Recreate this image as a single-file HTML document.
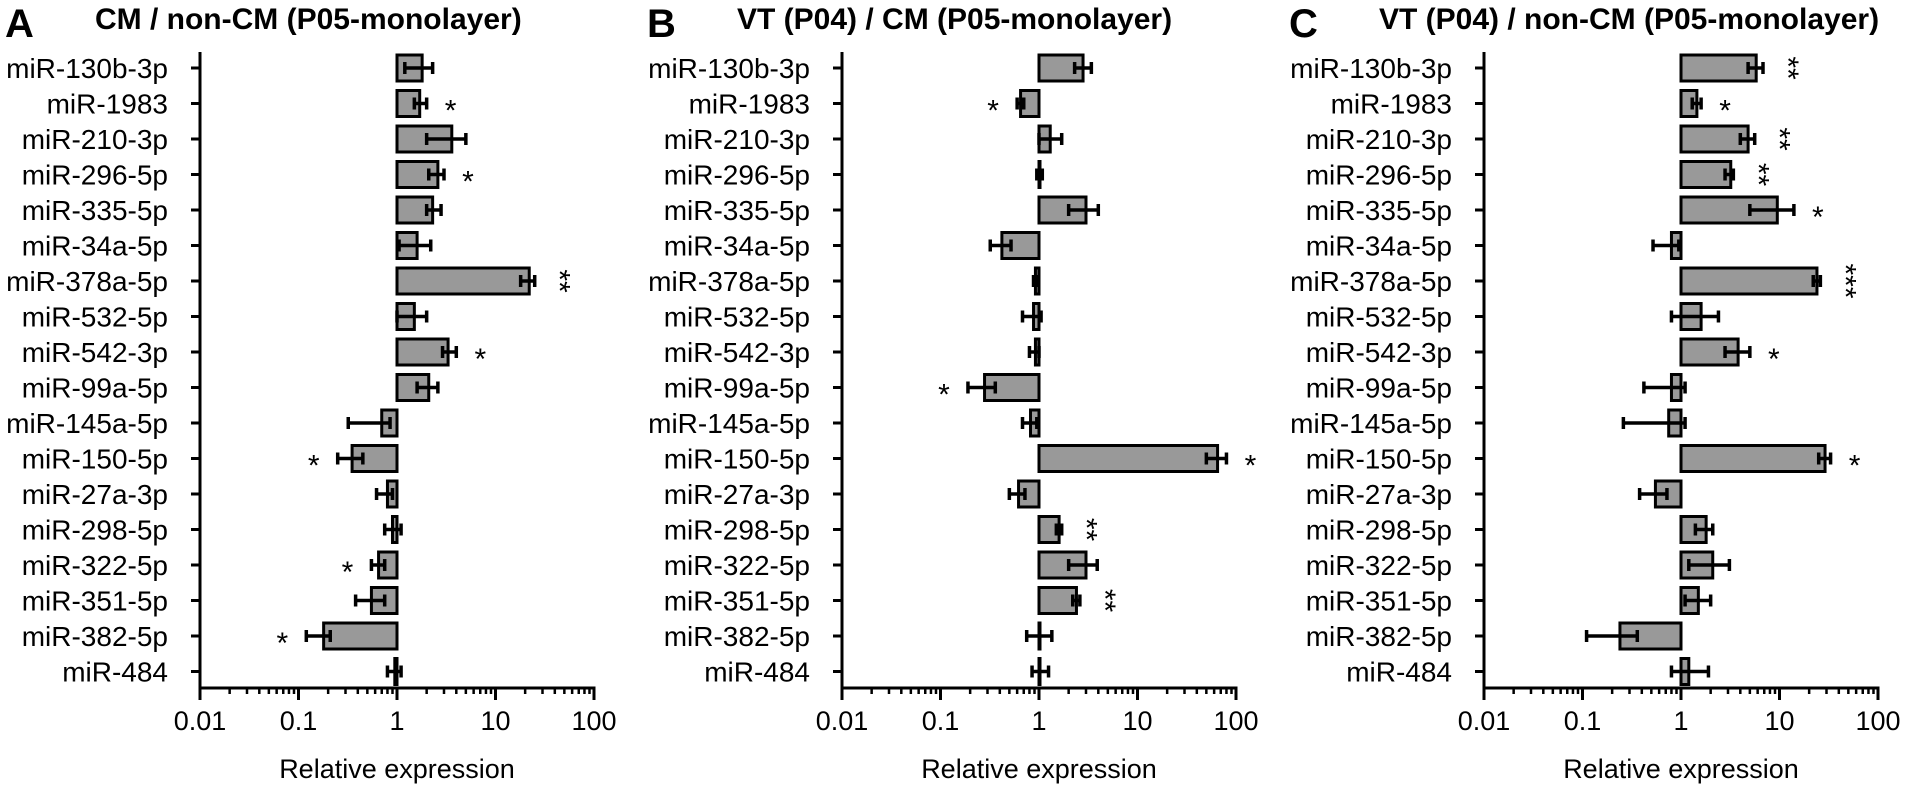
<!DOCTYPE html>
<html><head><meta charset="utf-8">
<style>
html,body{margin:0;padding:0;background:#fff;}
svg{display:block;font-family:"Liberation Sans",Arial,sans-serif;}
</style></head>
<body>
<svg id="chart" width="1910" height="790" viewBox="0 0 1910 790"></svg>
<script>
const categories = ["miR-130b-3p","miR-1983","miR-210-3p","miR-296-5p","miR-335-5p","miR-34a-5p","miR-378a-5p","miR-532-5p","miR-542-3p","miR-99a-5p","miR-145a-5p","miR-150-5p","miR-27a-3p","miR-298-5p","miR-322-5p","miR-351-5p","miR-382-5p","miR-484"];
const tickValues = [0.01,0.1,1,10,100];
const tickLabels = ["0.01","0.1","1","10","100"];
const panelLetters = ["A","B","C"];
const panelTitles = ["CM / non-CM (P05-monolayer)","VT (P04) / CM (P05-monolayer)","VT (P04) / non-CM (P05-monolayer)"];

const valuesA = [1.8,1.7,3.6,2.6,2.3,1.6,22,1.5,3.3,2.1,0.7,0.35,0.8,0.9,0.65,0.55,0.18,0.95];
const lowA    = [1.2,1.5,2.0,2.1,2.0,1.05,18,1.0,2.9,1.6,0.32,0.25,0.62,0.75,0.55,0.38,0.12,0.8];
const highA   = [2.3,2.0,5.0,3.0,2.8,2.2,25,2.0,4.0,2.6,0.85,0.45,0.9,1.1,0.75,0.75,0.21,1.1];
const sigA    = ["","*","","*","","","**","","*","","","*","","","*","","*",""];

const valuesB = [2.8,0.65,1.3,1.0,3.0,0.42,0.92,0.88,0.92,0.28,0.82,65,0.62,1.6,3.0,2.4,1.0,1.0];
const lowB    = [2.3,0.6,1.0,0.95,2.0,0.32,0.88,0.68,0.8,0.19,0.68,50,0.5,1.5,2.0,2.2,0.75,0.85];
const highB   = [3.4,0.7,1.7,1.08,4.0,0.52,0.96,1.05,1.0,0.36,0.95,80,0.72,1.7,3.9,2.6,1.35,1.25];
const sigB    = ["","*","","","","","","","","*","","*","","**","","**","",""];

const valuesC = [5.8,1.45,4.8,3.2,9.5,0.8,24,1.6,3.8,0.8,0.75,29,0.55,1.8,2.1,1.5,0.24,1.2];
const lowC    = [4.8,1.3,4.0,2.8,5.0,0.52,22,0.8,2.8,0.42,0.26,25,0.38,1.4,1.2,1.1,0.11,0.8];
const highC   = [6.8,1.6,5.6,3.4,14,0.95,26,2.4,5.0,1.1,1.1,33,0.72,2.1,3.1,2.0,0.36,1.9];
const sigC    = ["**","*","**","**","*","","***","","*","","","*","","","","","",""];

const panelValues = [valuesA,valuesB,valuesC];
const panelLows = [lowA,lowB,lowC];
const panelHighs = [highA,highB,highC];
const panelSigs = [sigA,sigB,sigC];

const NS = "http://www.w3.org/2000/svg";
const svg = document.getElementById("chart");
function mk(tag, attrs, parent){
  const e = document.createElementNS(NS, tag);
  for (const k in attrs) e.setAttribute(k, attrs[k]);
  (parent||svg).appendChild(e);
  return e;
}
const panelX0 = [200,842,1484];
const DEC = 98.5;
const axisTop = 52, axisY = 688;
const rowY0 = 68, rowStep = 35.5, barH = 26;

for (let p=0;p<3;p++){
  const x0 = panelX0[p];
  const xs = v => x0 + (Math.log10(v)+2)*DEC;
  const yr = i => rowY0 + i*rowStep;
  const g = mk("g",{});
  
  

  const letter = mk("text",{x:x0-195,y:37,"font-size":40,"font-weight":"bold"},g);
  letter.textContent = panelLetters[p];
  
  
  const title = mk("text",{x:x0-105,y:29,"font-size":30,"font-weight":"bold"},g);
  title.textContent = panelTitles[p];
  
  

  const ya = mk("line",{x1:x0,y1:axisTop,x2:x0,y2:axisY+1.5,stroke:"#000","stroke-width":3},g);
  
  
  categories.forEach((c,i)=>{
    mk("line",{x1:x0-9,y1:yr(i),x2:x0,y2:yr(i),stroke:"#000","stroke-width":3},g);
    const t = mk("text",{x:x0-32,y:yr(i)+10,"font-size":28,"text-anchor":"end"},g);
    t.textContent = c;
    
    
  });
  const xa = mk("line",{x1:x0-1.5,y1:axisY,x2:xs(100)+1.5,y2:axisY,stroke:"#000","stroke-width":3},g);
  
  
  for (let d=0; d<4; d++){
    for (let m=2;m<=9;m++){
      const v = tickValues[d]*m;
      mk("line",{x1:xs(v),y1:axisY,x2:xs(v),y2:axisY+6,stroke:"#000","stroke-width":2.5},g);
    }
  }
  tickValues.forEach((v,k)=>{
    mk("line",{x1:xs(v),y1:axisY,x2:xs(v),y2:axisY+12,stroke:"#000","stroke-width":3},g);
    const t = mk("text",{x:xs(v),y:730,"font-size":27,"text-anchor":"middle"},g);
    t.textContent = tickLabels[k];
    
    
  });
  const xt = mk("text",{x:xs(1),y:778,"font-size":27,"text-anchor":"middle"},g);
  xt.textContent = "Relative expression";
  
  

  const vals = panelValues[p], lows = panelLows[p], highs = panelHighs[p], sigs = panelSigs[p];
  vals.forEach((v,i)=>{
    const a = xs(1), b = xs(v);
    const r = mk("rect",{x:Math.min(a,b),y:yr(i)-barH/2,width:Math.max(Math.abs(b-a),1),height:barH,fill:"#999",stroke:"#000","stroke-width":3},g);
    
    
    const lo = xs(lows[i]), hi = xs(highs[i]);
    const e = mk("g",{stroke:"#000","stroke-width":3.5},g);
    
    
    mk("line",{x1:lo,y1:yr(i),x2:hi,y2:yr(i)},e);
    mk("line",{x1:lo,y1:yr(i)-6,x2:lo,y2:yr(i)+6},e);
    mk("line",{x1:hi,y1:yr(i)-6,x2:hi,y2:yr(i)+6},e);
    const s = sigs[i];
    if (s){
      const sx = v>=1 ? hi+24 : lo-24;
      let st;
      if (s.length===1){
        st = mk("text",{x:sx,y:yr(i)+17,"font-size":30,"text-anchor":"middle"},g);
      } else {
        st = mk("text",{x:0,y:0,"font-size":30,"text-anchor":"middle",transform:`translate(${sx-9},${yr(i)}) rotate(90)`},g);
      }
      st.textContent = s;
      
      
    }
  });
}
</script>
</body></html>
